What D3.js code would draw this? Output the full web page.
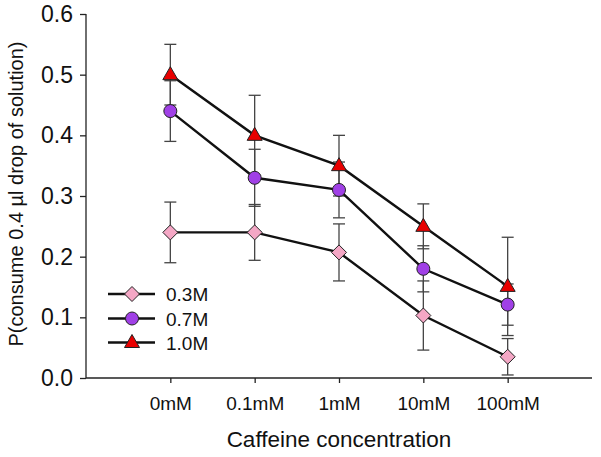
<!DOCTYPE html>
<html><head><meta charset="utf-8">
<script src="https://cdn.jsdelivr.net/npm/d3@7"></script>
<style>body{margin:0;background:#fff}svg{display:block}text{font-family:Arial,"Liberation Sans",sans-serif}</style>
</head><body>
<script>
const categories = ["0mM","0.1mM","1mM","10mM","100mM"];
const seriesNames = ["0.3M","0.7M","1.0M"];
const values03 = [0.24,0.24,0.207,0.103,0.035];
const errors03 = [0.05,0.046,0.047,0.057,0.03];
const values07 = [0.44,0.33,0.31,0.18,0.121];
const errors07 = [0.05,0.047,0.046,0.038,0.034];
const values10 = [0.50,0.40,0.35,0.25,0.151];
const errors10 = [0.05,0.066,0.05,0.037,0.081];
const yTicks = [0,0.1,0.2,0.3,0.4,0.5,0.6];

const W=601,H=457;
const svg=d3.select("body").append("svg").attr("width",W).attr("height",H);
const x=d3.scaleLinear().domain([0,6]).range([86,592]);
const y=d3.scaleLinear().domain([0,0.6]).range([378,14]);

const gy=svg.append("g").attr("transform","translate(86,0)")
  .call(d3.axisLeft(y).tickValues(yTicks).tickFormat(d3.format(".1f")).tickSize(6).tickPadding(7));
gy.attr("font-size",null).attr("font-family",null);
gy.selectAll("text").attr("font-size","23px").attr("fill","#111");
const gx=svg.append("g").attr("transform","translate(0,378)")
  .call(d3.axisBottom(x).tickValues([1,2,3,4,5]).tickFormat(i=>categories[i-1]).tickSize(5).tickPadding(14));
gx.attr("font-size",null).attr("font-family",null);
gx.selectAll("text").attr("font-size","19px").attr("fill","#111");
svg.selectAll(".domain").attr("stroke","#222").attr("stroke-width",1.3);
svg.selectAll(".tick line").attr("stroke","#222").attr("stroke-width",1.3);
gx.select(".domain").attr("d","M86,0H592");
gy.select(".domain").attr("d","M0,14V378");

svg.append("text").attr("x",339).attr("y",447).attr("text-anchor","middle")
  .attr("font-size","22.5px").attr("fill","#111").text("Caffeine concentration");
svg.append("text").attr("transform","translate(23,194) rotate(-90)").attr("text-anchor","middle")
  .attr("font-size","20px").attr("fill","#111").text("P(consume 0.4 \u00b5l drop of solution)");

const series=[
 {name:seriesNames[0],vals:values03,errs:errors03,shape:"diamond",color:"#F4A7C5"},
 {name:seriesNames[1],vals:values07,errs:errors07,shape:"circle",color:"#A040E6"},
 {name:seriesNames[2],vals:values10,errs:errors10,shape:"triangle",color:"#E80000"}
];
function marker(g,shape,color){
  let p;
  if(shape==="diamond") p=g.append("path").attr("d","M0,-7.5L7.5,0L0,7.5L-7.5,0Z");
  else if(shape==="circle") p=g.append("circle").attr("r",6.5);
  else p=g.append("path").attr("d","M0,-8L7.5,5L-7.5,5Z");
  p.attr("fill",color).attr("stroke","#222").attr("stroke-width",1);
}
series.forEach(s=>{
  const eg=svg.append("g").attr("stroke","#444").attr("stroke-width",1.3);
  s.vals.forEach((v,i)=>{
    const cx=x(i+1), lo=y(v-s.errs[i]), hi=y(v+s.errs[i]);
    eg.append("line").attr("x1",cx).attr("x2",cx).attr("y1",lo).attr("y2",hi);
    eg.append("line").attr("x1",cx-6).attr("x2",cx+6).attr("y1",lo).attr("y2",lo);
    eg.append("line").attr("x1",cx-6).attr("x2",cx+6).attr("y1",hi).attr("y2",hi);
  });
});
const line=d3.line().x((d,i)=>x(i+1)).y(d=>y(d));
series.forEach(s=>{
  svg.append("path").attr("d",line(s.vals)).attr("fill","none").attr("stroke","#111").attr("stroke-width",2.4);
});
series.forEach(s=>{
  s.vals.forEach((v,i)=>{
    const g=svg.append("g").attr("transform",`translate(${x(i+1)},${y(v)})`);
    marker(g,s.shape,s.color);
  });
});
const ly=[294,318.5,342.5];
series.forEach((s,k)=>{
  svg.append("line").attr("x1",108).attr("x2",155).attr("y1",ly[k]).attr("y2",ly[k]).attr("stroke","#111").attr("stroke-width",2.4);
  const g=svg.append("g").attr("transform",`translate(132,${ly[k]})`);
  marker(g,s.shape,s.color);
  svg.append("text").attr("x",166).attr("y",ly[k]+7).attr("font-size","19px").attr("fill","#111").text(s.name);
});
</script>
</body></html>
